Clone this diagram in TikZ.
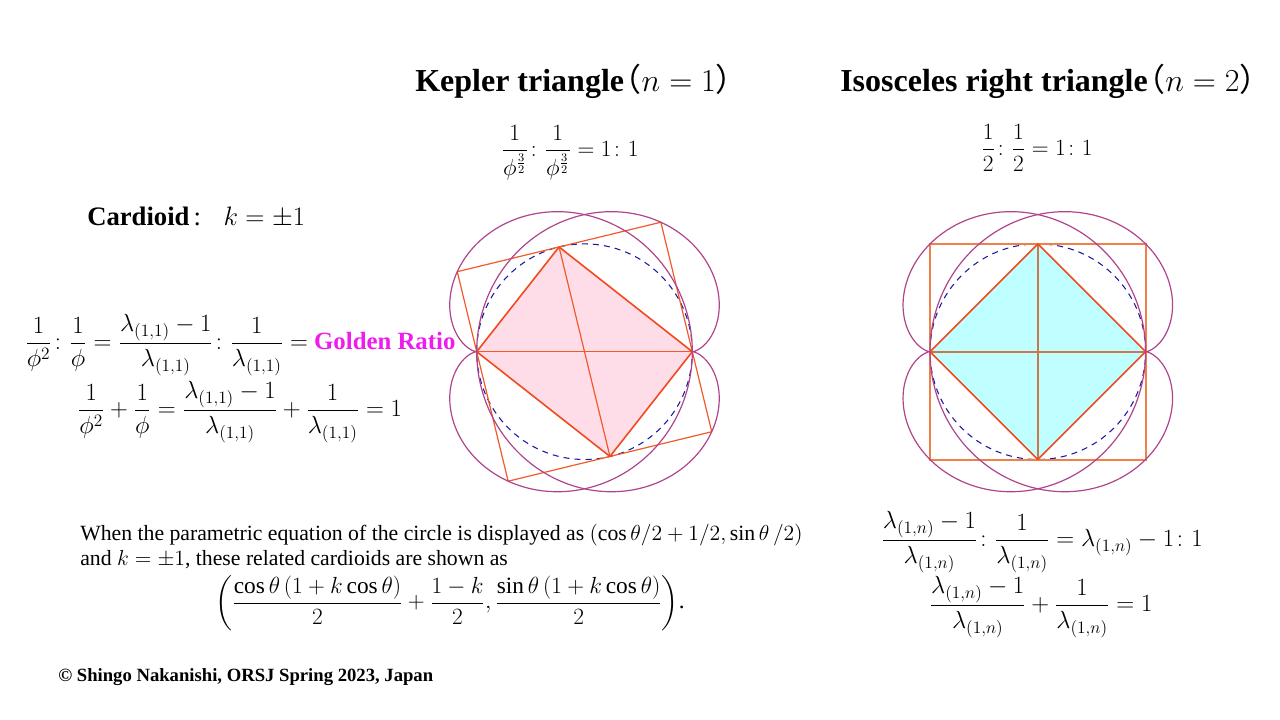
\RequirePackage{fix-cm}
\documentclass[tikz,border=0pt]{standalone}
\usepackage{amsmath}
\usepackage{fontspec}
\setmainfont{Liberation Serif}
\newfontfamily\cjkfont{Noto Sans CJK JP}
\definecolor{cardc}{HTML}{B0448C}
\definecolor{circc}{HTML}{1A1AA0}
\definecolor{redc}{HTML}{F04A1E}
\definecolor{quadc}{HTML}{F05A28}
\definecolor{sqc}{HTML}{F0804A}
\definecolor{crossc}{HTML}{C8784A}
\definecolor{pinkf}{HTML}{FFDDE8}
\definecolor{cyanf}{HTML}{BFFFFF}
\definecolor{goldc}{HTML}{EE1CEE}
\tikzset{
  cardio/.style={draw=cardc, line width=0.9pt},
  dcirc/.style={draw=circc, line width=0.8pt, dash pattern=on 4.5pt off 3.8pt},
  inner/.style={draw=redc, line width=1.2pt, line join=round},
  outerq/.style={draw=quadc, line width=0.9pt, line join=round},
  thinl/.style={draw=quadc, line width=0.9pt},
  sqbox/.style={draw=sqc, line width=1.5pt},
  crossl/.style={draw=crossc, line width=1.3pt},
  ttl/.style={font=\fontsize{24}{28}\selectfont\bfseries, inner sep=0pt},
  eqn/.style={font=\fontsize{18.6}{22}\selectfont, inner sep=0pt},
  eqs/.style={font=\fontsize{17.5}{21}\selectfont, inner sep=0pt},
  para/.style={font=\fontsize{16.3}{19}\selectfont, inner sep=0pt},
}
\newcommand{\cardioids}{%
  \draw[cardio] plot[domain=0:360, samples=240, smooth] ({cos(\x)*(1+cos(\x))/2},{sin(\x)*(1+cos(\x))/2});
  \draw[cardio] plot[domain=0:360, samples=240, smooth] ({cos(\x)*(1-cos(\x))/2+1},{sin(\x)*(1-cos(\x))/2});
}
\newcommand{\lpar}{{\normalfont\kern-0.45em\cjkfont （}}
\newcommand{\rpar}{{\normalfont\cjkfont ）}}
\begin{document}
\begin{tikzpicture}[x=0.75pt,y=-0.75pt]
\useasboundingbox (0,0) rectangle (1280,720);
% ---------- Kepler figure ----------
\begin{scope}[shift={(476.7,351.7)}, x=161.7pt, y=161.7pt]
  \coordinate (kO) at (0,0);
  \coordinate (kR) at (1,0);
  \coordinate (kT) at (0.381966,0.485868);
  \coordinate (kB) at (0.618034,-0.485868);
  \coordinate (kF1) at (-0.090170,0.371172);
  \coordinate (kF2) at (0.854102,0.600566);
  \coordinate (kF4) at (1.090170,-0.371172);
  \coordinate (kF3) at (0.145898,-0.600566);
  \fill[pinkf] (kO) -- (kT) -- (kR) -- (kB) -- cycle;
  \draw[dcirc] (0.5,0) circle[radius=0.5];
  \draw[outerq] (kF1) -- (kF2) -- (kF4) -- (kF3) -- cycle;
  \draw[thinl] (kO) -- (kR);
  \draw[thinl] (kT) -- (kB);
  \draw[inner] (kO) -- (kT) -- (kR) -- (kB) -- cycle;
  \cardioids
\end{scope}
% ---------- Isosceles figure ----------
\begin{scope}[shift={(930,351.7)}, x=161.7pt, y=161.7pt]
  \coordinate (iO) at (0,0);
  \coordinate (iR) at (1,0);
  \coordinate (iT) at (0.5,0.5);
  \coordinate (iB) at (0.5,-0.5);
  \fill[cyanf] (iO) -- (iT) -- (iR) -- (iB) -- cycle;
  \draw[dcirc] (0.5,0) circle[radius=0.5];
  \draw[sqbox] (0,-0.5) rectangle (1,0.5);
  \draw[crossl] (iO) -- (iR);
  \draw[crossl] (iT) -- (iB);
  \draw[inner] (iO) -- (iT) -- (iR) -- (iB) -- cycle;
  \cardioids
\end{scope}
% ---------- titles ----------
\node[ttl, anchor=base west] (title1) at (415,92) {Kepler triangle\lpar$n=1$\rpar};
\node[ttl, anchor=base west] (title2) at (840,92) {Isosceles\ right triangle\lpar$n=2$\rpar};
% ---------- small ratio formulas ----------
\node[eqs] (r1) at (570,153) {$\displaystyle \frac{1}{\phi^{\frac{3}{2}}}\colon\frac{1}{\phi^{\frac{3}{2}}}=1\colon 1$};
\node[eqs] (r2) at (1037,148) {$\displaystyle \frac{1}{2}\colon\frac{1}{2}=1\colon 1$};
% ---------- cardioid label ----------
\node[font=\fontsize{20}{24}\selectfont, inner sep=0pt, anchor=base west] (card) at (87,225) {\textbf{Cardioid}\kern3pt:\hspace{17pt}$k=\pm1$};
% ---------- left equations ----------
\node[eqn, anchor=west] (le1) at (25,345) {$\displaystyle \frac{1}{\phi^2}\colon\frac{1}{\phi}=\frac{\lambda_{(1,1)}-1}{\lambda_{(1,1)}}\colon\frac{1}{\lambda_{(1,1)}}=$ \textcolor{goldc}{\textbf{Golden Ratio}}};
\node[eqn] (le2) at (240,412) {$\displaystyle \frac{1}{\phi^2}+\frac{1}{\phi}=\frac{\lambda_{(1,1)}-1}{\lambda_{(1,1)}}+\frac{1}{\lambda_{(1,1)}}=1$};
% ---------- paragraph ----------
\node[para, anchor=base west] (p1) at (80,540) {When the parametric equation of the circle is displayed as $(\cos\theta/2+1/2,\sin\theta\,/2)$};
\node[para, anchor=base west] (p2) at (80,565) {and $k=\pm1$, these related cardioids are shown as};
\node[eqs] (p3) at (450,603) {$\displaystyle \left(\frac{\cos\theta\,(1+k\cos\theta)}{2}+\frac{1-k}{2},\frac{\sin\theta\,(1+k\cos\theta)}{2}\right)$.};
% ---------- right equations ----------
\node[eqn] (re1) at (1042,542) {$\displaystyle \frac{\lambda_{(1,n)}-1}{\lambda_{(1,n)}}\colon\frac{1}{\lambda_{(1,n)}}=\lambda_{(1,n)}-1\colon 1$};
\node[eqn] (re2) at (1041,607) {$\displaystyle \frac{\lambda_{(1,n)}-1}{\lambda_{(1,n)}}+\frac{1}{\lambda_{(1,n)}}=1$};
% ---------- copyright ----------
\node[font=\fontsize{14}{17}\selectfont\bfseries, inner sep=0pt, anchor=base west] (copy) at (58,681) {\textcopyright\ Shingo Nakanishi, ORSJ Spring 2023, Japan};
\end{tikzpicture}
\end{document}
